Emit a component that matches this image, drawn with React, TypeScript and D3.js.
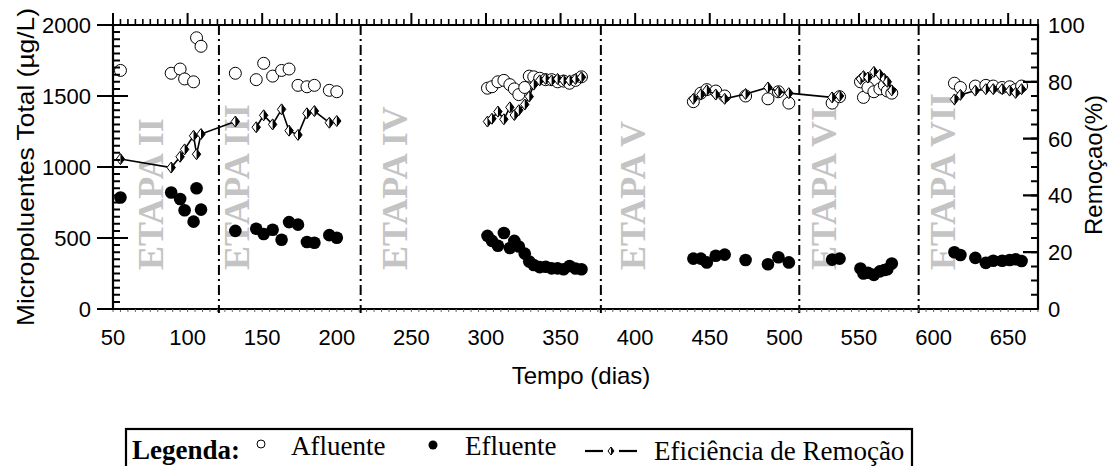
import React from 'react';
import * as d3 from 'd3';

// ---- data ----
const days = [
  55, 89, 95, 98, 104, 106, 109, 132, 146, 151, 157, 163, 168, 174, 180, 185, 195, 200,
  301, 304, 308, 312, 316, 319, 322, 326, 329, 332, 336, 340, 344, 348, 352, 356, 360, 364,
  439, 444, 448, 454, 460, 474, 489, 496, 503, 532, 537,
  551, 553, 556, 560, 564, 567, 569, 572,
  614, 618, 628, 635, 640, 646, 651, 655, 659,
];
const afluente = [
  1680, 1660, 1690, 1620, 1600, 1910, 1850, 1660, 1615, 1730, 1640, 1680, 1690, 1575, 1565, 1575, 1540, 1530,
  1555, 1565, 1600, 1610, 1580, 1550, 1510, 1560, 1640, 1635, 1625, 1615, 1615, 1600, 1605, 1590, 1610, 1635,
  1460, 1520, 1545, 1535, 1500, 1500, 1480, 1530, 1450, 1450, 1495,
  1600, 1490, 1560, 1530, 1550, 1575, 1535, 1520,
  1590, 1560, 1570, 1575, 1570, 1560, 1565, 1545, 1570,
];
const efluente = [
  785, 820, 775, 695, 615, 850, 700, 550, 565, 528, 558, 488, 612, 594, 472, 467, 520, 502,
  515, 480, 445, 535, 430, 480, 440, 390, 335, 310, 295, 298, 286, 286, 280, 303, 285, 280,
  355, 355, 328, 375, 383, 345, 315, 364, 328, 348, 355,
  285, 250, 255, 240, 265, 275, 280, 320,
  400, 380, 360, 325, 340, 340, 345, 350, 338,
];
const eficiencia = [
  52.8, 49.8, 53.6, 56.2, 61, 54.5, 61.6, 66, 64, 68.2, 65, 70.3, 62.8, 61.3, 68.9, 69.7, 65.6, 66.2,
  66, 67, 69.5, 66.8, 71, 68.3, 70, 72, 74.8, 79, 80.5, 81, 80.5, 81, 80.5, 80.5, 81, 81.6,
  74, 75.5, 77, 75.5, 74, 75.7, 78, 76.5, 76, 74.5, 75,
  81, 82, 81.5, 83.5, 82.5, 81, 80, 77,
  73.8, 75.4, 76.9, 77.4, 77.4, 77.4, 76.9, 76.1, 77.4,
];
const lineBreakAfter = [132, 200, 364, 537, 572];
const stageBoundaries = [121, 216, 377, 510, 590];
const stageLabels = ['ETAPA II', 'ETAPA III', 'ETAPA IV', 'ETAPA V', 'ETAPA VI', 'ETAPA VII'];
const stageLabelDays = [83.5, 141, 247, 406.5, 534.5, 614.5];
const xTicks = [50, 100, 150, 200, 250, 300, 350, 400, 450, 500, 550, 600, 650];
const leftTicks = [0, 500, 1000, 1500, 2000];
const rightTicks = [0, 20, 40, 60, 80, 100];

const SANS = "'Liberation Sans', Arial, Helvetica, sans-serif";
const SERIF = "'Liberation Serif', 'Times New Roman', Times, serif";

function Diamond({ cx, cy, w = 4.2, h = 5.5 }: { cx: number; cy: number; w?: number; h?: number }) {
  return (
    <g>
      <path d={`M${cx},${cy - h}L${cx + w},${cy}L${cx},${cy + h}L${cx - w},${cy}Z`} fill="#fff" stroke="#000" strokeWidth={1} />
      <path d={`M${cx},${cy - h}L${cx + w},${cy}L${cx},${cy + h}Z`} fill="#000" />
    </g>
  );
}

export default function App() {
  const W = 1109, H = 466;
  const x = d3.scaleLinear().domain([50, 670]).range([113, 1038]);
  const yL = d3.scaleLinear().domain([0, 2000]).range([309, 25]);
  const yR = d3.scaleLinear().domain([0, 100]).range([309, 25]);
  const [x0, x1] = x.range();
  const yTop = yL.range()[1], yBot = yL.range()[0];

  const segs: [number, number][][] = [];
  let cur: [number, number][] = [];
  days.forEach((d, i) => {
    cur.push([x(d), yR(eficiencia[i])]);
    if (lineBreakAfter.includes(d)) { segs.push(cur); cur = []; }
  });
  if (cur.length) segs.push(cur);
  const line = d3.line();

  const topMinor = d3.range(50, 671, 5);
  const leftMinor = d3.range(0, 2001, 50);
  const rightMinor = d3.range(0, 101, 5);

  const topMinorPath = topMinor.filter((t) => t % 50 !== 0).map((t) => `M${x(t)},${yTop}V${yTop - 6}`).join('');
  const topMajorPath = xTicks.map((t) => `M${x(t)},${yTop}V${yTop - 12}`).join('');
  const botTickPath = topMinor.map((t) => `M${x(t)},${yBot}V${yBot + 3}`).join('');
  const leftMinorPath = leftMinor.map((t) => `M${x0},${yL(t)}H${x0 + 7}`).join('');
  const leftMajorPath = leftTicks.map((t) => `M${x0 - 16},${yL(t)}H${x0 + 15}`).join('');
  const rightMinorPath = rightMinor.map((t) => `M${x1 - 7},${yR(t)}H${x1}`).join('');
  const rightMajorPath = rightTicks.map((t) => `M${x1 - 15},${yR(t)}H${x1}`).join('');

  return (
    <svg width={W} height={H} style={{ position: 'absolute', left: 0, top: 0, background: '#fff' }}>
      {stageLabels.map((s, i) => (
        <text key={s} transform={`translate(${x(stageLabelDays[i])},270) rotate(-90)`}
          fontFamily={SERIF} fontWeight="bold" fontSize={36} fill="#c4c4c4">{s}</text>
      ))}
      {stageBoundaries.map((b) => (
        <line key={b} x1={x(b)} x2={x(b)} y1={yTop} y2={yBot + 4} stroke="#000" strokeWidth={2}
          strokeDasharray="10,4,2,4" />
      ))}
      {days.map((d, i) => (
        <circle key={'a' + i} cx={x(d)} cy={yL(afluente[i])} r={6} fill="#fff" stroke="#000" strokeWidth={1} />
      ))}
      {days.map((d, i) => (
        <circle key={'e' + i} cx={x(d)} cy={yL(efluente[i])} r={6.3} fill="#000" />
      ))}
      {segs.map((s, i) => (
        <path key={'s' + i} d={line(s) || ''} fill="none" stroke="#000" strokeWidth={1.6} />
      ))}
      {days.map((d, i) => (
        <Diamond key={'d' + i} cx={x(d)} cy={yR(eficiencia[i])} />
      ))}

      <path d={`M${x0},${yTop}H${x1}V${yBot + 1}M${x0 - 16},${yBot}H${x1}M${x0},${yTop}V${yBot}`} fill="none" stroke="#000" strokeWidth={2.2} />

      <path d={topMinorPath} fill="none" stroke="#000" strokeWidth={1.6} />
      <path d={topMajorPath} fill="none" stroke="#000" strokeWidth={2} />
      <path d={botTickPath} fill="none" stroke="#666" strokeWidth={1} />
      <path d={leftMinorPath} fill="none" stroke="#000" strokeWidth={2} />
      <path d={leftMajorPath} fill="none" stroke="#000" strokeWidth={2.2} />
      <path d={rightMinorPath} fill="none" stroke="#000" strokeWidth={2} />
      <path d={rightMajorPath} fill="none" stroke="#000" strokeWidth={2.2} />

      {leftTicks.map((t) => (
        <text key={'lt' + t} x={91} y={yL(t)} dy="0.36em" textAnchor="end" fontFamily={SANS} fontSize={22} fill="#000">{t}</text>
      ))}
      {rightTicks.map((t) => (
        <text key={'rt' + t} x={1048} y={yR(t)} dy="0.36em" textAnchor="start" fontFamily={SANS} fontSize={22} fill="#000">{t}</text>
      ))}
      {xTicks.map((t) => (
        <text key={'xt' + t} x={x(t)} y={345} textAnchor="middle" fontFamily={SANS} fontSize={22} fill="#000">{t}</text>
      ))}

      <text x={581} y={384} textAnchor="middle" fontFamily={SANS} fontSize={24} fill="#000">Tempo (dias)</text>
      <text transform={`translate(26,167) rotate(-90)`} textAnchor="middle" dy="0.35em" fontFamily={SANS} fontSize={24}
        textLength={318} lengthAdjust="spacingAndGlyphs" fill="#000">Micropoluentes Total (µg/L)</text>
      <text transform={`translate(1094,165) rotate(-90)`} textAnchor="middle" dy="0.35em" fontFamily={SANS} fontSize={24}
        fill="#000">Remoçao(%)</text>

      <rect x={126} y={429} width={786} height={50} fill="none" stroke="#000" strokeWidth={2.2} />
      <text x={132} y={459} fontFamily={SERIF} fontWeight="bold" fontSize={27} fill="#000">Legenda:</text>
      <circle cx={261} cy={444} r={4} fill="#fff" stroke="#000" strokeWidth={1} />
      <text x={291} y={455} fontFamily={SERIF} fontSize={27} fill="#000">Afluente</text>
      <circle cx={433} cy={445} r={4.5} fill="#000" />
      <text x={465} y={455} fontFamily={SERIF} fontSize={27} fill="#000">Efluente</text>
      <line x1={585} x2={603} y1={451} y2={451} stroke="#000" strokeWidth={2.2} />
      <Diamond cx={611} cy={451} w={3} h={4} />
      <line x1={619} x2={637} y1={451} y2={451} stroke="#000" strokeWidth={2.2} />
      <text x={654} y={460} fontFamily={SERIF} fontSize={27} fill="#000">Eficiência de Remoção</text>
    </svg>
  );
}
